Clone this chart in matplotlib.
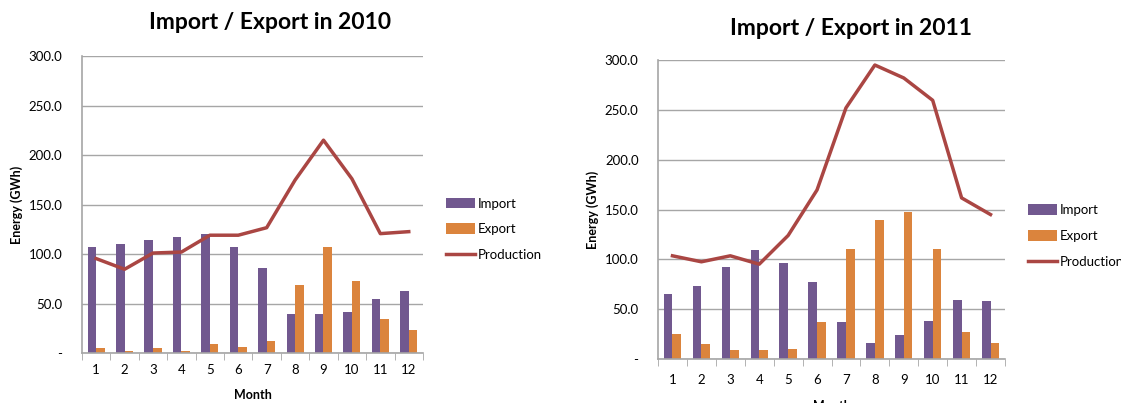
import matplotlib
matplotlib.use('Agg')
import matplotlib.pyplot as plt
import numpy as np

plt.rcParams['font.family'] = ['Lato', 'DejaVu Sans']

months = [1, 2, 3, 4, 5, 6, 7, 8, 9, 10, 11, 12]

import_2010 = [107, 110, 114, 117, 120, 107, 86, 39, 39, 41, 55, 63]
export_2010 = [4.7, 1.7, 4.7, 1.7, 9.4, 6, 12.4, 69, 107, 72.6, 34, 23]
production_2010 = [95.4, 84.6, 101, 102, 119, 119, 126.6, 174.7, 215, 176, 120.6, 122.6]

import_2011 = [65.5, 73, 92.5, 109, 96, 77.5, 36.7, 16.4, 23.7, 37.8, 59, 58]
export_2011 = [24.7, 15.4, 8.7, 8.7, 9.7, 36.7, 110, 140, 147.7, 110, 27, 16.4]
production_2011 = [103.6, 97.6, 103.6, 95.2, 124, 169.7, 252, 295, 282, 259.6, 161.7, 145]

IMPORT_COLOR = '#71588F'
EXPORT_COLOR = '#DB843D'
PROD_COLOR = '#AA4643'
GRID_COLOR = '#A6A6A6'


def draw_chart(fig, rect, title, title_xy, imp, exp, prod, legend_xy, xpad, xlabpad):
    """
    Draws one import/export chart with its legend
    """
    ax = fig.add_axes(rect)
    x = np.arange(len(months))
    w = 0.3
    b1 = ax.bar(x - w / 2, imp, width=w, color=IMPORT_COLOR, label='Import', zorder=2)
    b2 = ax.bar(x + w / 2, exp, width=w, color=EXPORT_COLOR, label='Export', zorder=2)
    l1, = ax.plot(x, prod, color=PROD_COLOR, lw=2.5, label='Production', zorder=3)

    ax.set_xlim(-0.5, len(months) - 0.5)
    ax.set_ylim(0, 300)
    yt = np.arange(0, 301, 50)
    ax.set_yticks(yt)
    ax.set_yticklabels(['-'] + ['{:.1f}'.format(v) for v in yt[1:]])
    ax.set_xticks(x)
    ax.set_xticklabels([str(m) for m in months])
    ax.set_xticks(np.arange(-0.5, len(months)), minor=True)
    ax.tick_params(axis='x', which='major', length=0, labelsize=9.5, pad=xpad)
    ax.tick_params(axis='x', which='minor', length=5, color=GRID_COLOR)
    ax.tick_params(axis='y', length=0, labelsize=9.5, pad=14)
    ax.grid(axis='y', color=GRID_COLOR, lw=1, zorder=0)
    for s in ['top', 'right']:
        ax.spines[s].set_visible(False)
    for s in ['left', 'bottom']:
        ax.spines[s].set_color(GRID_COLOR)
        ax.spines[s].set_linewidth(1.2)

    ax.set_ylabel('Energy (GWh)', fontsize=9, fontweight='bold', labelpad=4)
    ax.set_xlabel('Month', fontsize=9, fontweight='bold', labelpad=xlabpad)
    fig.text(title_xy[0], title_xy[1], title, ha='center', va='center',
             fontsize=16.5, fontweight='bold')

    fig.legend([b1, b2, l1], ['Import', 'Export', 'Production'],
               loc='upper left', bbox_to_anchor=legend_xy, frameon=False,
               fontsize=9.5, handlelength=2.2, handleheight=0.9,
               labelspacing=1.05, handletextpad=0.2, borderaxespad=0)
    return ax


def main():
    fig = plt.figure(figsize=(11.21, 4.03), dpi=100)
    draw_chart(fig, [0.0731, 0.124, 0.3042, 0.737], 'Import / Export in 2010', (0.241, 0.943),
               import_2010, export_2010, production_2010, (0.393, 0.523), 8, 9)
    draw_chart(fig, [0.587, 0.109, 0.3095, 0.742], 'Import / Export in 2011', (0.759, 0.930),
               import_2011, export_2011, production_2011, (0.912, 0.507), 11, 9.5)
    fig.savefig('out.png', dpi=100)


if __name__ == '__main__':
    main()
